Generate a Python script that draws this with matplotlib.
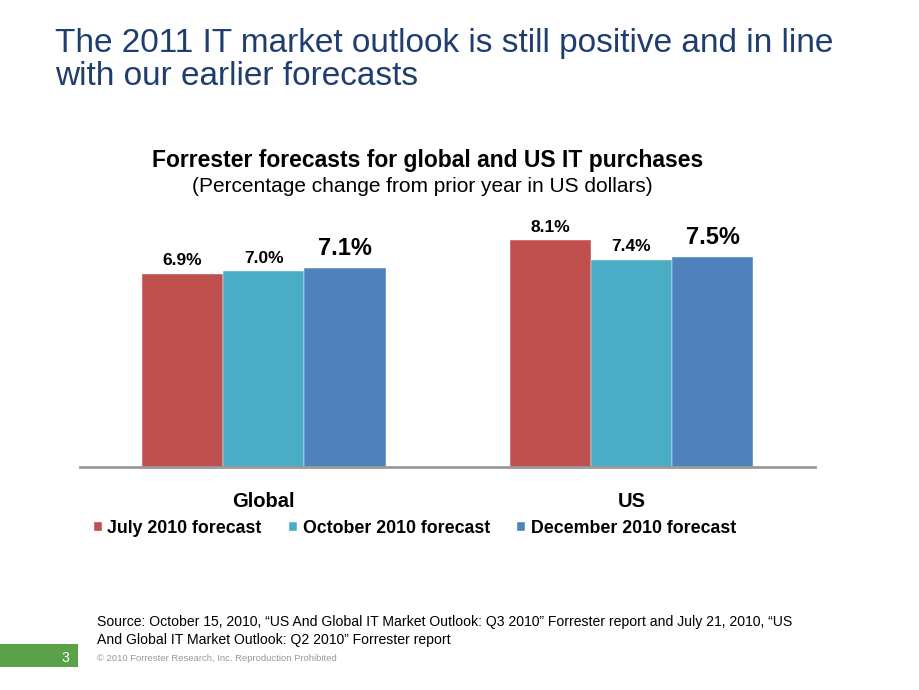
import numpy as np
import matplotlib.pyplot as plt
from matplotlib.patches import Rectangle

# Data
regions = ['Global', 'US']
series = ['July 2010 forecast', 'October 2010 forecast', 'December 2010 forecast']
july = [6.9, 8.1]
october = [7.0, 7.4]
december = [7.1, 7.5]
colors = ['#C0504D', '#4BACC6', '#4F81BD']

plt.rcParams['font.family'] = ['Liberation Sans', 'DejaVu Sans']

fig = plt.figure(figsize=(9.2, 6.9), dpi=100)
ax = fig.add_axes([0.087, 0.3232, 0.799, 0.365])

x = np.arange(len(regions))
width = 0.221
values = [july, october, december]
for i, (name, vals, c) in enumerate(zip(series, values, colors)):
    pos = x + (i - 1) * width
    ax.bar(pos, vals, width, color=c, label=name, edgecolor='white', linewidth=0.3)
    for p, v in zip(pos, vals):
        big = i == 2
        ax.text(p, v + (0.3 if big else 0.2), f'{v:.1f}%', ha='center', va='bottom',
                fontsize=17 if big else 12.5, fontweight='bold', color='black')

ax.set_xlim(-0.5, 1.5)
ax.set_ylim(0, 9)
for s in ['top', 'right', 'left']:
    ax.spines[s].set_visible(False)
ax.spines['bottom'].set_color('#999999')
ax.spines['bottom'].set_linewidth(2)
ax.set_yticks([])
ax.set_xticks(x)
ax.set_xticklabels(regions, fontsize=14.5, fontweight='bold')
ax.tick_params(axis='x', length=0, pad=18)

leg = fig.legend(loc='center', bbox_to_anchor=(0.451, 0.234), ncol=3, frameon=False,
                 prop={'size': 12.8, 'weight': 'bold'}, handlelength=0.45, handleheight=0.45,
                 handletextpad=0.3, columnspacing=1.55)

# Titles
fig.text(0.06, 0.937, 'The 2011 IT market outlook is still positive and in line',
         fontsize=24, color='#1F3D6E', ha='left', va='center')
fig.text(0.06, 0.889, 'with our earlier forecasts',
         fontsize=24, color='#1F3D6E', ha='left', va='center')
fig.text(0.465, 0.767, 'Forrester forecasts for global and US IT purchases',
         fontsize=16.5, fontweight='bold', ha='center', va='center')
fig.text(0.459, 0.729, '(Percentage change from prior year in US dollars)',
         fontsize=15, ha='center', va='center')

# Footer
fig.text(0.105, 0.098, 'Source: October 15, 2010, \u201cUS And Global IT Market Outlook: Q3 2010\u201d Forrester report and July 21, 2010, \u201cUS',
         fontsize=10.1, ha='left', va='center')
fig.text(0.105, 0.072, 'And Global IT Market Outlook: Q2 2010\u201d Forrester report',
         fontsize=10.1, ha='left', va='center')
fig.text(0.105, 0.046, '\u00a9 2010 Forrester Research, Inc. Reproduction Prohibited',
         fontsize=6.8, color='#999999', ha='left', va='center')
fig.patches.append(Rectangle((0, 1 - 667 / 690), 78 / 920, 23 / 690, transform=fig.transFigure,
                             facecolor='#5BA14A', edgecolor='none'))
fig.text(0.071, 0.047, '3', fontsize=10, color='white', ha='center', va='center')

fig.savefig('out.png', dpi=100)
